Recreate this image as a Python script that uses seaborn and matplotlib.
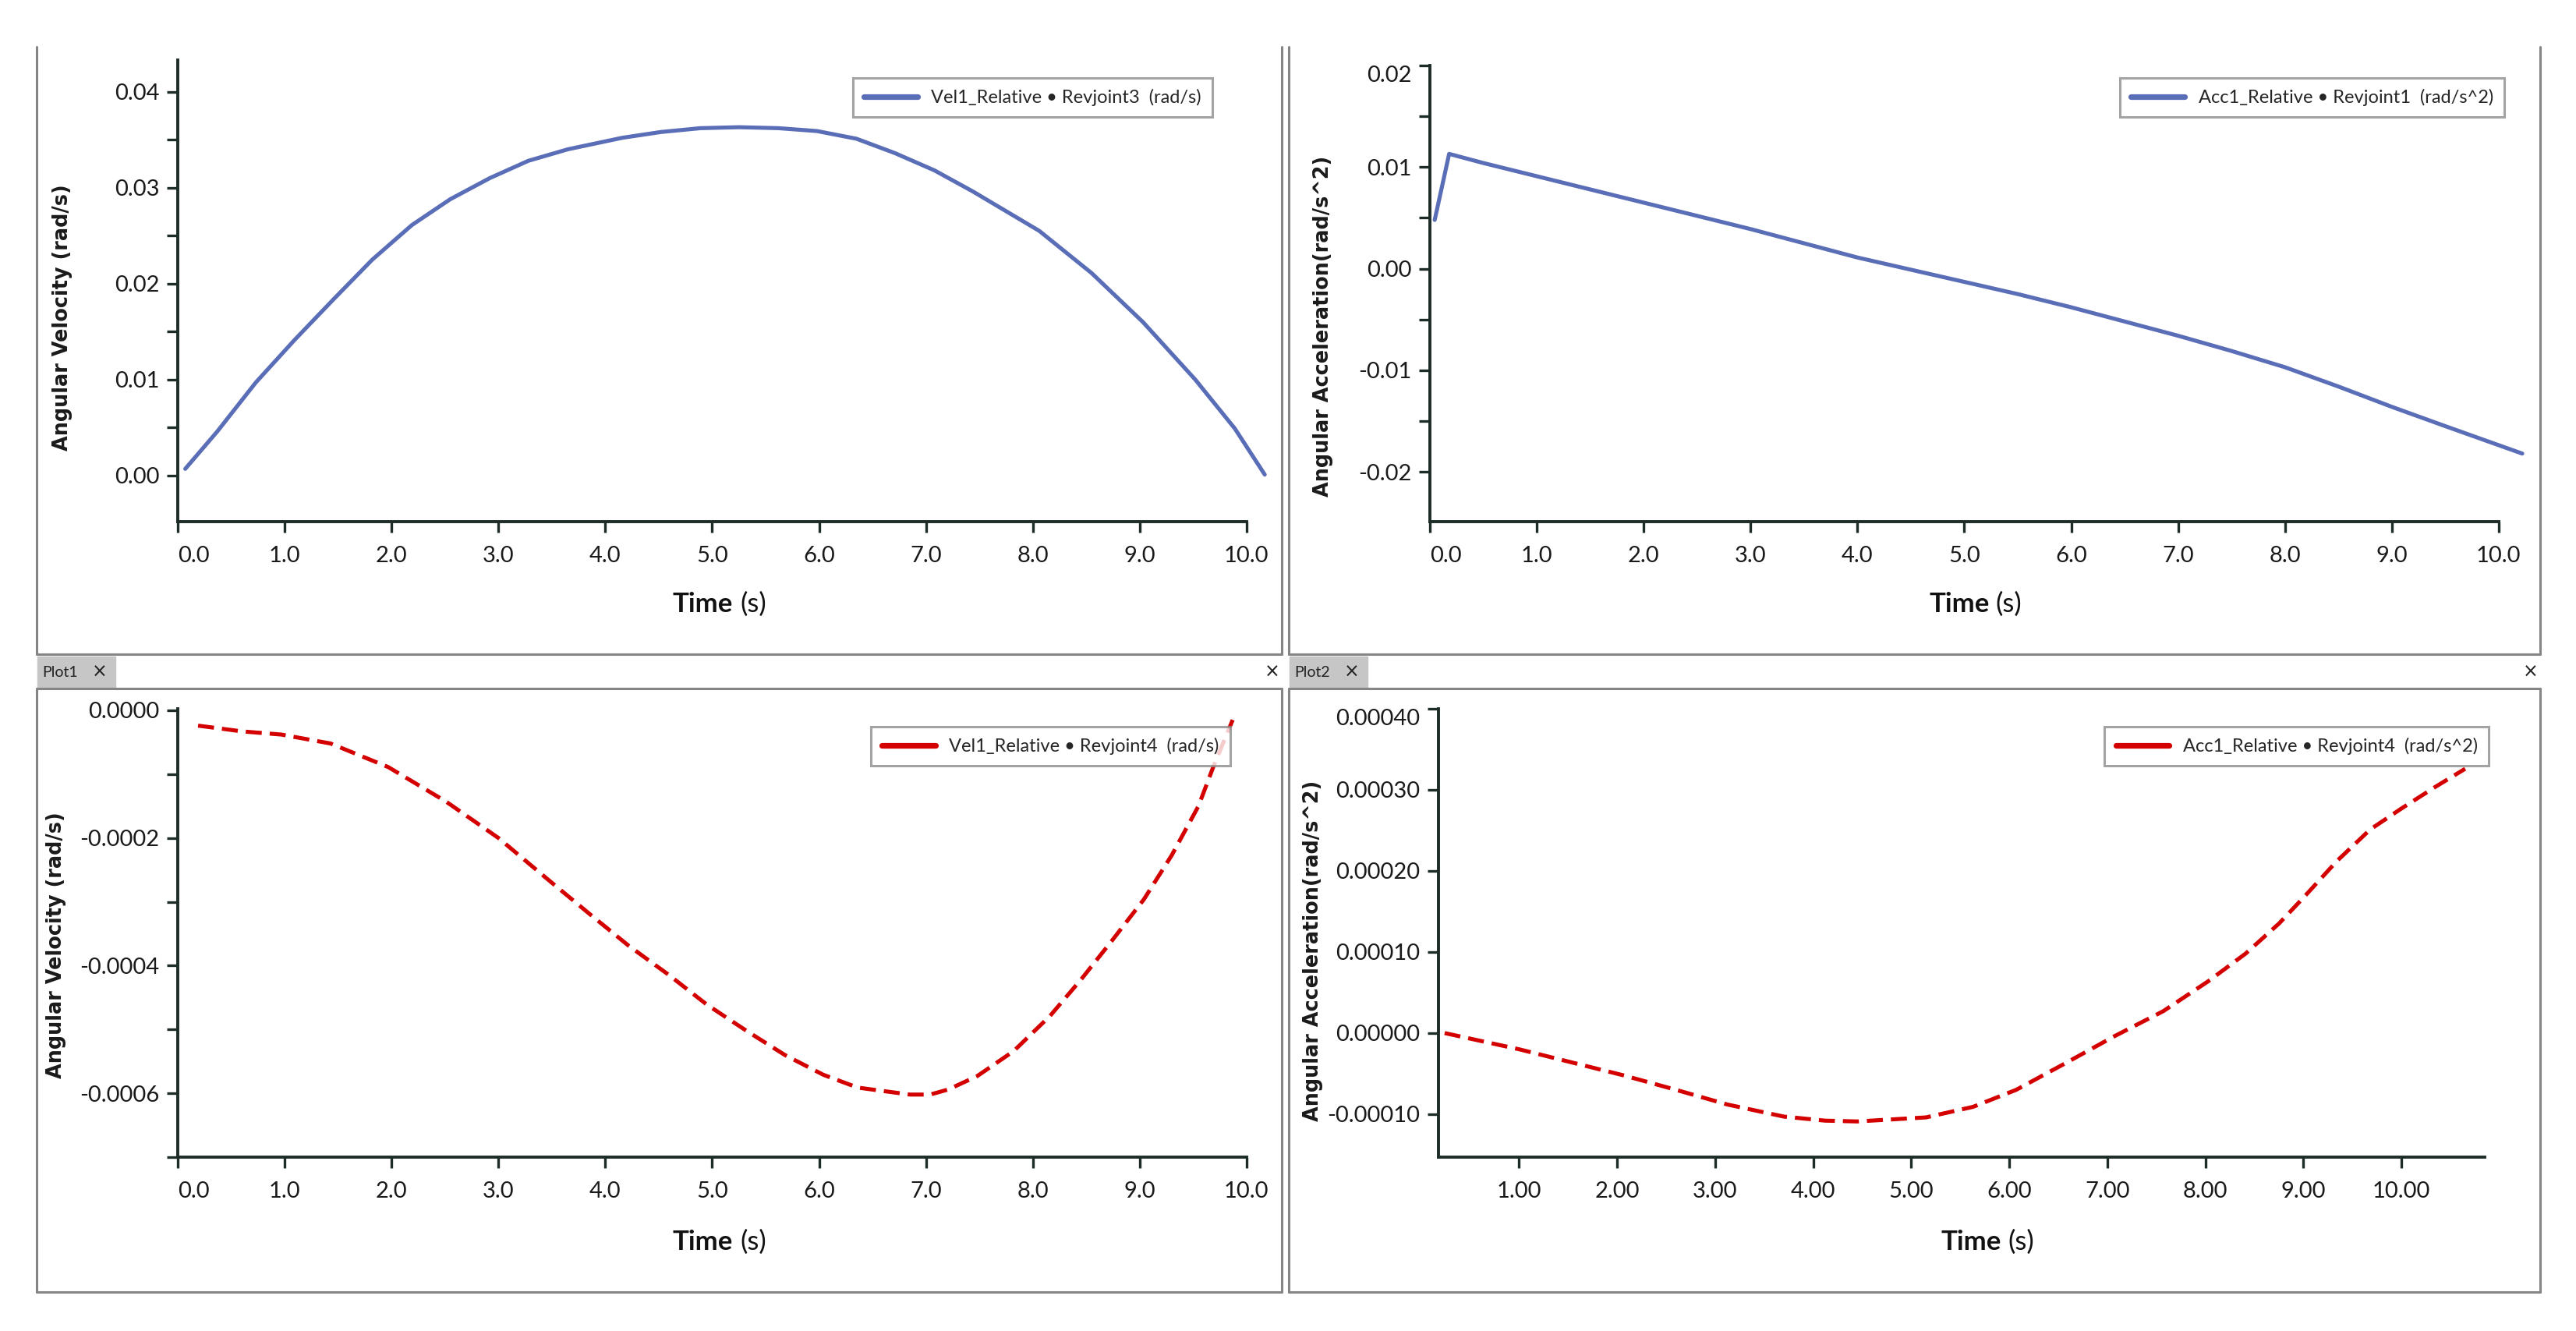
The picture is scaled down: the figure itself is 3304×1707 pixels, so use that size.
import matplotlib
matplotlib.use("Agg")
import matplotlib.pyplot as plt
import seaborn as sns
from matplotlib.lines import Line2D
from matplotlib.patches import Rectangle
from matplotlib.ticker import MultipleLocator, FormatStrFormatter

# === DONNÉES ===
vel3_t = [0.07, 0.37, 0.73, 1.09, 1.46, 1.82, 2.19, 2.55, 2.92, 3.28, 3.65,
          4.16, 4.52, 4.89, 5.25, 5.62, 5.98, 6.35, 6.71, 7.08, 7.44, 8.06,
          8.55, 9.03, 9.52, 9.89, 10.17]
vel3_v = [0.0007, 0.0046, 0.0097, 0.0141, 0.0184, 0.0225, 0.0261, 0.0288,
          0.0310, 0.0328, 0.0340, 0.0352, 0.0358, 0.0362, 0.0363, 0.0362,
          0.0359, 0.0351, 0.0336, 0.0318, 0.0296, 0.0255, 0.0211, 0.0160,
          0.0100, 0.0049, 0.0001]

acc1_t = [0.045, 0.18, 0.5, 1.0, 1.5, 2.0, 2.5, 3.0, 3.5, 4.0, 4.5, 5.0, 5.5,
          6.0, 6.5, 7.0, 7.5, 8.0, 8.5, 9.0, 9.5, 10.22]
acc1_a = [0.0048, 0.0113, 0.0104, 0.0091, 0.0078, 0.0065, 0.0052, 0.0039,
          0.0025, 0.0011, -0.0001, -0.0013, -0.0025, -0.0038, -0.0052,
          -0.0066, -0.0081, -0.0097, -0.0116, -0.0136, -0.0155, -0.0182]

vel4_t = [0.19, 0.6, 0.97, 1.43, 1.97, 2.51, 3.0, 3.47, 3.86, 4.22, 4.59,
          4.95, 5.32, 5.68, 6.04, 6.36, 6.58, 6.85, 7.04, 7.21, 7.48, 7.82,
          8.16, 8.45, 8.74, 9.04, 9.30, 9.55, 9.69, 9.87]
vel4_v = [-0.000024, -0.000033, -0.000038, -0.000052, -0.000089, -0.000143,
          -0.000200, -0.000266, -0.000320, -0.000369, -0.000414, -0.000461,
          -0.000502, -0.000540, -0.000571, -0.000591, -0.000596, -0.000602,
          -0.000602, -0.000594, -0.000573, -0.000534, -0.000479, -0.000422,
          -0.000361, -0.000296, -0.000227, -0.000150, -0.000088, -0.000015]

acc4_t = [0.24, 1.0, 2.06, 2.6, 3.12, 3.7, 4.12, 4.45, 5.15, 5.63, 6.07, 6.56,
          7.07, 7.57, 8.03, 8.41, 8.75, 9.0, 9.34, 9.68, 10.0, 10.35, 10.65]
acc4_a = [0.0, -0.000020, -0.000052, -0.000070, -0.000088, -0.000103,
          -0.000108, -0.000109, -0.000104, -0.000091, -0.000070, -0.000038,
          -0.000004, 0.000027, 0.000064, 0.000098, 0.000135, 0.000167,
          0.000212, 0.000251, 0.000277, 0.000304, 0.000326]

labels = ["Vel1_Relative \u2022 Revjoint3  (rad/s)",
          "Acc1_Relative \u2022 Revjoint1  (rad/s^2)",
          "Vel1_Relative \u2022 Revjoint4  (rad/s)",
          "Acc1_Relative \u2022 Revjoint4  (rad/s^2)"]
ylabels = ["Angular Velocity (rad/s)", "Angular Acceleration(rad/s^2)",
           "Angular Velocity (rad/s)", "Angular Acceleration(rad/s^2)"]

# === STYLE ===
sns.set_theme(style="white")
plt.rcParams['font.family'] = ['Lato', 'DejaVu Sans']
plt.rcParams['axes.unicode_minus'] = False

W, H = 3304, 1707
fig = plt.figure(figsize=(W / 100, H / 100), dpi=100)
fig.patch.set_facecolor("white")

def fx(px):
    return px / W

def fy(py):
    return 1 - py / H

def box(l, t, r, b):
    return [l / W, 1 - b / H, (r - l) / W, (b - t) / H]

spine_col = "#1d2c27"
blue = "#5a6db7"
red = "#d40000"
frame_col = "#858585"

# cadres des fenêtres
def fline(x0, y0, x1, y1, lw=2.2, col=frame_col):
    fig.add_artist(Line2D([fx(x0), fx(x1)], [fy(y0), fy(y1)], color=col,
                          lw=lw, transform=fig.transFigure))

for l, r in [(47, 1644), (1653, 3258)]:
    fline(l, 60, l, 839)
    fline(r, 60, r, 839)
    fline(l, 839, r, 839)
    fline(l, 883, r, 883)
    fline(l, 883, l, 1657)
    fline(r, 883, r, 1657)
    fline(l, 1657, r, 1657)

for l, r, name in [(48, 1632, "Plot1"), (1654, 3246, "Plot2")]:
    fig.add_artist(Rectangle((fx(l), fy(883)), 100 / W, 41 / H,
                             transform=fig.transFigure, color="#c6c6c6",
                             zorder=0))
    fig.text(fx(l + 6), fy(862), name, fontsize=14, va="center", ha="left",
             color="#222222")
    fig.text(fx(l + 80), fy(862), "\u00d7", fontsize=17, va="center",
             ha="center", color="#222222", family="DejaVu Sans")
    fig.text(fx(r), fy(862), "\u00d7", fontsize=17, va="center",
             ha="center", color="#222222", family="DejaVu Sans")

# === PANNEAUX ===
dash = (0, (4.0, 2.0))
panels = [
    dict(t=vel3_t, y=vel3_v, box=(228, 77, 1640, 669), xlim=(0, 10.3),
         xb=(0, 10), ylim=(-0.0048, 0.0433), xt=range(0, 11), xfmt="%.1f",
         ystep=0.01, yminor=0.005, yfmt="%.2f", ymin_t=0.0, ymax_t=0.04,
         col=blue, ls="-", leg=(1555, 100), ylab=(80, 407),
         tlab=(940, 949, 775), first_left=True, top_va=False),
    dict(t=acc1_t, y=acc1_a, box=(1834, 84, 3246, 669), xlim=(0, 10.3),
         xb=(0, 10), ylim=(-0.0249, 0.02), xt=range(0, 11), xfmt="%.1f",
         ystep=0.01, yminor=0.005, yfmt="%.2f", ymin_t=-0.02, ymax_t=0.02,
         col=blue, ls="-", leg=(3212, 100), ylab=(1697, 418),
         tlab=(2552, 2559, 775), first_left=True, top_va=True),
    dict(t=vel4_t, y=vel4_v, box=(228, 909, 1640, 1484), xlim=(0, 10.3),
         xb=(0, 10), ylim=(-0.0007, 0.0000024), xt=range(0, 11), xfmt="%.1f",
         ystep=0.0002, yminor=0.0001, yfmt="%.4f", ymin_t=-0.0006,
         ymax_t=0.0, col=red, ls=dash, leg=(1578, 932),
         ylab=(72, 1212), tlab=(940, 949, 1593), first_left=True,
         top_va=False),
    dict(t=acc4_t, y=acc4_a, box=(1845, 909, 3187, 1484),
         xlim=(0.177, 10.85), xb=(0.177, 10.85), ylim=(-0.000153, 0.0004),
         xt=range(1, 11), xfmt="%.2f", ystep=0.0001, yminor=None,
         yfmt="%.5f", ymin_t=-0.0001, ymax_t=0.0004, col=red,
         ls=dash, leg=(3192, 932), ylab=(1684, 1219),
         tlab=(2567, 2575, 1593), first_left=False, top_va=True),
]

for i, p in enumerate(panels):
    ax = fig.add_axes(box(*p["box"]))
    sns.lineplot(x=p["t"], y=p["y"], ax=ax, color=p["col"], linewidth=3.7,
                 linestyle=p["ls"], label=labels[i], sort=False,
                 estimator=None)
    ax.set_xlim(*p["xlim"])
    ax.set_ylim(*p["ylim"])
    ax.set_facecolor("white")
    for s in ["top", "right"]:
        ax.spines[s].set_visible(False)
    for s in ["left", "bottom"]:
        ax.spines[s].set_color(spine_col)
        ax.spines[s].set_linewidth(2.8)
    ax.spines["bottom"].set_bounds(*p["xb"])

    ax.set_xticks(list(p["xt"]))
    ax.xaxis.set_major_formatter(FormatStrFormatter(p["xfmt"]))
    n = int(round((p["ymax_t"] - p["ymin_t"]) / p["ystep"]))
    ax.set_yticks([p["ymin_t"] + k * p["ystep"] for k in range(n + 1)])
    ax.yaxis.set_major_formatter(FormatStrFormatter(p["yfmt"]))
    if p["yminor"]:
        ax.yaxis.set_minor_locator(MultipleLocator(p["yminor"]))
    ax.tick_params(axis="both", which="major", direction="out", length=10,
                   width=2.4, color=spine_col, labelsize=21,
                   labelcolor="#1a1a1a", left=True, bottom=True)
    ax.tick_params(axis="x", pad=12)
    ax.tick_params(axis="y", pad=7)
    ax.tick_params(axis="y", which="minor", direction="out", length=10,
                   width=2.4, color=spine_col, left=True)
    if p["first_left"]:
        ax.get_xticklabels()[0].set_ha("left")
    if p["top_va"]:
        ax.get_yticklabels()[-1].set_va("top")

    ax.set_xlabel("")
    ax.set_ylabel(ylabels[i], family="DejaVu Sans", fontweight="bold",
                  fontsize=18.4, color="#1a1a1a", va="center")
    ax.yaxis.set_label_coords(fx(p["ylab"][0]), fy(p["ylab"][1]),
                              transform=fig.transFigure)
    fig.text(fx(p["tlab"][0]), fy(p["tlab"][2]), "Time", fontsize=25,
             fontweight="bold", ha="right", va="center", color="#111111")
    fig.text(fx(p["tlab"][1]), fy(p["tlab"][2]), "(s)", fontsize=25,
             ha="left", va="center", color="#111111")

    leg = ax.legend(loc="upper right", bbox_to_anchor=(fx(p["leg"][0]),
                    fy(p["leg"][1])), bbox_transform=fig.transFigure,
                    borderaxespad=0, frameon=True, fancybox=False,
                    edgecolor="#8c8c8c", fontsize=17, handlelength=2.9,
                    handletextpad=0.75, borderpad=0.6)
    leg.get_frame().set_linewidth(2.2)
    for line in leg.get_lines():
        line.set_linestyle("-")
        line.set_linewidth(5.2)

fig.savefig("out.png", dpi=100, facecolor="white")
